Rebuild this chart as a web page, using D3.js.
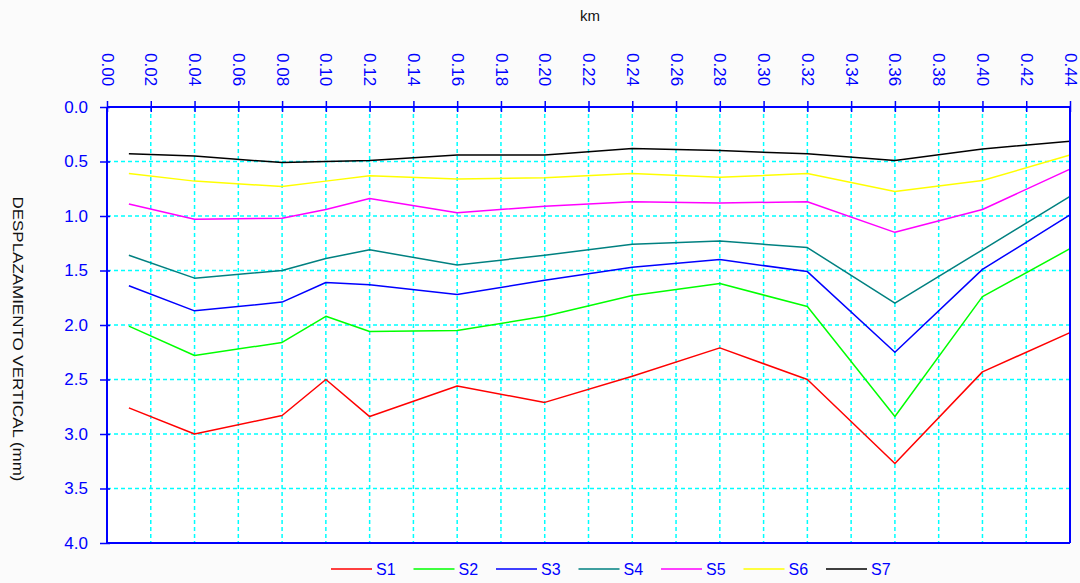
<!DOCTYPE html>
<html>
<head>
<meta charset="utf-8">
<script src="https://cdn.jsdelivr.net/npm/d3@7"></script>
<style>
  html, body { margin: 0; padding: 0; background: #fbfbfb; }
  svg { display: block; font-family: "Liberation Sans", Arial, sans-serif; }
</style>
</head>
<body>
<svg id="chart" width="1080" height="583"></svg>
<script>
// ---- data ----
const kmPoints = [0.01, 0.04, 0.08, 0.10, 0.12, 0.16, 0.20, 0.24, 0.28, 0.32, 0.36, 0.40, 0.44];
const seriesNames = ["S1", "S2", "S3", "S4", "S5", "S6", "S7"];
const seriesColors = ["#ff0000", "#00ff00", "#0000ff", "#008080", "#ff00ff", "#ffff00", "#000000"];
const S1 = [2.76, 3.00, 2.83, 2.50, 2.84, 2.56, 2.71, 2.47, 2.21, 2.50, 3.27, 2.43, 2.07];
const S2 = [2.01, 2.28, 2.16, 1.92, 2.06, 2.05, 1.92, 1.73, 1.62, 1.83, 2.84, 1.74, 1.30];
const S3 = [1.64, 1.87, 1.79, 1.61, 1.63, 1.72, 1.59, 1.47, 1.40, 1.51, 2.25, 1.49, 0.99];
const S4 = [1.36, 1.57, 1.50, 1.39, 1.31, 1.45, 1.36, 1.26, 1.23, 1.29, 1.80, 1.31, 0.82];
const S5 = [0.89, 1.03, 1.02, 0.94, 0.84, 0.97, 0.91, 0.87, 0.88, 0.87, 1.15, 0.94, 0.57];
const S6 = [0.61, 0.68, 0.73, 0.68, 0.63, 0.66, 0.65, 0.61, 0.645, 0.61, 0.775, 0.675, 0.44];
const S7 = [0.43, 0.45, 0.51, 0.50, 0.49, 0.44, 0.44, 0.38, 0.40, 0.43, 0.49, 0.385, 0.315];
const xTicks = [0.00,0.02,0.04,0.06,0.08,0.10,0.12,0.14,0.16,0.18,0.20,0.22,0.24,0.26,0.28,0.30,0.32,0.34,0.36,0.38,0.40,0.42,0.44];
const yTicks = [0.0,0.5,1.0,1.5,2.0,2.5,3.0,3.5,4.0];
const xTitle = "km";
const yTitle = "DESPLAZAMIENTO VERTICAL (mm)";

const allSeries = [S1, S2, S3, S4, S5, S6, S7];

// ---- layout ----
const L = 107, R = 1070, T = 107, B = 543;
const svg = d3.select("#chart");
const x = d3.scaleLinear().domain([0, 0.44]).range([L, R]);
const y = d3.scaleLinear().domain([0, 4]).range([T, B]);
const axisBlue = "#0000ff";

// plot background
svg.append("rect").attr("x", L).attr("y", T).attr("width", R - L).attr("height", B - T).attr("fill", "#ffffff");

// grid
const grid = svg.append("g").attr("stroke", "#00ffff").attr("stroke-width", 1.5).attr("stroke-dasharray", "4,3");
grid.selectAll("line.v").data(xTicks.slice(1, -1)).join("line")
  .attr("x1", d => x(d)).attr("x2", d => x(d)).attr("y1", T).attr("y2", B);
grid.selectAll("line.h").data(yTicks.slice(1, -1)).join("line")
  .attr("x1", L).attr("x2", R).attr("y1", d => y(d)).attr("y2", d => y(d));

// series
const line = d3.line().x((d, i) => x(kmPoints[i])).y(d => y(d));
svg.append("g").selectAll("path").data(allSeries).join("path")
  .attr("d", d => line(d))
  .attr("fill", "none")
  .attr("stroke", (d, i) => seriesColors[i])
  .attr("stroke-width", 1.5)
  .attr("stroke-linejoin", "round");

// top axis
const xAxis = svg.append("g").attr("transform", `translate(0,${T})`)
  .call(d3.axisTop(x).tickValues(xTicks).tickFormat(d3.format(".2f")).tickSize(6).tickPadding(0));
xAxis.select(".domain").attr("stroke", axisBlue).attr("stroke-width", 2).attr("d", `M${L},0H${R}`);
xAxis.selectAll(".tick line").attr("stroke", axisBlue).attr("stroke-width", 1.5).attr("y1", -6).attr("y2", 5);
xAxis.selectAll(".tick text")
  .attr("fill", axisBlue).attr("font-size", 17)
  .attr("font-family", "Liberation Sans, Arial, sans-serif")
  .attr("text-anchor", "start")
  .attr("x", 0).attr("y", 0).attr("dy", "0.35em")
  .attr("transform", `translate(0,${53 - T}) rotate(90)`);

// left axis
const yAxis = svg.append("g").attr("transform", `translate(${L},0)`)
  .call(d3.axisLeft(y).tickValues(yTicks).tickFormat(d3.format(".1f")).tickSize(7).tickPadding(12));
yAxis.select(".domain").attr("stroke", axisBlue).attr("stroke-width", 2).attr("d", `M0,${T}V${B}`);
yAxis.selectAll(".tick line").attr("stroke", axisBlue).attr("stroke-width", 1.5).attr("x1", 3);
yAxis.selectAll(".tick text").attr("fill", axisBlue).attr("font-size", 17)
  .attr("font-family", "Liberation Sans, Arial, sans-serif");

// bottom and right frame
svg.append("line").attr("x1", L).attr("x2", R).attr("y1", B).attr("y2", B).attr("stroke", axisBlue).attr("stroke-width", 2);
svg.append("line").attr("x1", R).attr("x2", R).attr("y1", T).attr("y2", B).attr("stroke", axisBlue).attr("stroke-width", 2);

// titles
svg.append("text").attr("x", 590).attr("y", 21).attr("text-anchor", "middle")
  .attr("font-size", 15).attr("fill", "#111").text(xTitle);
svg.append("text").attr("transform", "translate(13,339) rotate(90)")
  .attr("text-anchor", "middle").attr("font-size", 15).attr("fill", "#111")
  .attr("textLength", 285).attr("lengthAdjust", "spacingAndGlyphs")
  .text(yTitle);

// legend
const legend = svg.append("g").attr("transform", "translate(331,569)");
const item = legend.selectAll("g").data(seriesNames).join("g")
  .attr("transform", (d, i) => `translate(${i * 82.5},0)`);
item.append("line").attr("x1", 0).attr("x2", 41).attr("y1", 0).attr("y2", 0)
  .attr("stroke", (d, i) => seriesColors[i]).attr("stroke-width", 1.5);
item.append("text").attr("x", 45).attr("y", 0).attr("dy", "0.36em")
  .attr("font-size", 16).attr("fill", axisBlue).text(d => d);
</script>
</body>
</html>
